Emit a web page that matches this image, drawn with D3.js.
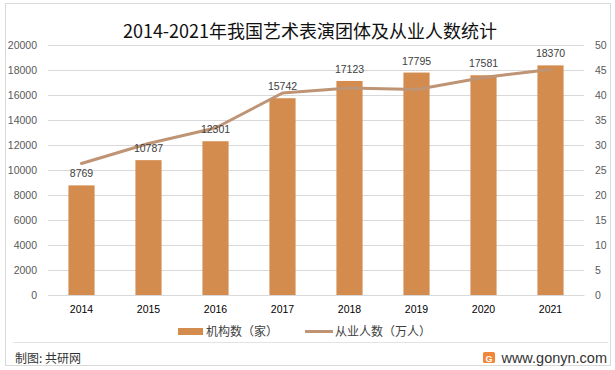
<!DOCTYPE html>
<html>
<head>
<meta charset="utf-8">
<script src="https://cdn.jsdelivr.net/npm/d3@7"></script>
<style>
  body { margin: 0; background: #fff; }
  text { font-family: "Liberation Sans", Arial, sans-serif; }
  .cjk { font-family: "Noto Sans CJK SC", sans-serif; }
</style>
</head>
<body>
<div id="chart"></div>
<script>
// chart data
var years = ["2014", "2015", "2016", "2017", "2018", "2019", "2020", "2021"];
var orgCount = [8769, 10787, 12301, 15742, 17123, 17795, 17581, 18370];
var staffCount = [26.3, 30.3, 33.4, 40.4, 41.4, 41.1, 43.5, 45.1];
var leftTicks = [0, 2000, 4000, 6000, 8000, 10000, 12000, 14000, 16000, 18000, 20000];
var rightTicks = [0, 5, 10, 15, 20, 25, 30, 35, 40, 45, 50];

var svgWidth = 615;
var svgHeight = 370;

var margin = { top: 45, right: 31, bottom: 75, left: 48 };
var width = svgWidth - margin.left - margin.right;
var height = svgHeight - margin.top - margin.bottom;

var barColor = "#D48C4E";
var lineColor = "#BE9474";

var svg = d3.select("#chart")
  .append("svg")
  .attr("width", svgWidth)
  .attr("height", svgHeight);

// outer frame + footer rule
svg.append("rect")
  .attr("x", 5.5).attr("y", 3.5)
  .attr("width", 605).attr("height", 362)
  .attr("fill", "none")
  .attr("stroke", "#d9d9d9");
svg.append("line")
  .attr("x1", 13).attr("x2", 608)
  .attr("y1", 342.5).attr("y2", 342.5)
  .attr("stroke", "#e3e3e3");

svg.append("text")
  .attr("class", "cjk")
  .attr("x", 310)
  .attr("y", 38)
  .attr("text-anchor", "middle")
  .attr("font-size", "18px")
  .attr("fill", "#111")
  .text("2014-2021年我国艺术表演团体及从业人数统计");

var chartGroup = svg.append("g")
  .attr("transform", `translate(${margin.left}, ${margin.top})`);

var x = d3.scaleBand()
  .domain(years)
  .range([0, width])
  .paddingInner(0.61)
  .paddingOuter(0.305);

var yLeft = d3.scaleLinear()
  .domain([0, 20000])
  .range([height, 0]);

var yRight = d3.scaleLinear()
  .domain([0, 50])
  .range([height, 0]);

// gridlines
chartGroup.append("g")
  .selectAll("line")
  .data(leftTicks)
  .enter()
  .append("line")
  .attr("x1", 0)
  .attr("x2", width)
  .attr("y1", d => Math.round(yLeft(d)) + 0.5)
  .attr("y2", d => Math.round(yLeft(d)) + 0.5)
  .attr("stroke", "#d9d9d9");

// left axis
var leftAxis = d3.axisLeft(yLeft).tickValues(leftTicks).tickFormat(d3.format("d")).tickSize(0).tickPadding(11);
chartGroup.append("g")
  .call(leftAxis)
  .call(g => g.select(".domain").remove())
  .selectAll("text")
  .attr("font-size", "10.5px")
  .attr("fill", "#595959")
  .attr("font-family", "Liberation Sans, Arial, sans-serif");

// right axis
var rightAxis = d3.axisRight(yRight).tickValues(rightTicks).tickSize(0).tickPadding(11);
chartGroup.append("g")
  .attr("transform", `translate(${width}, 0)`)
  .call(rightAxis)
  .call(g => g.select(".domain").remove())
  .selectAll("text")
  .attr("font-size", "10.5px")
  .attr("fill", "#595959")
  .attr("font-family", "Liberation Sans, Arial, sans-serif");

// bottom axis
var bottomAxis = d3.axisBottom(x).tickSize(0).tickPadding(11);
chartGroup.append("g")
  .attr("transform", `translate(0, ${height})`)
  .call(bottomAxis)
  .call(g => g.select(".domain").attr("stroke", "#d9d9d9"))
  .selectAll("text")
  .attr("font-size", "10.5px")
  .attr("fill", "#000")
  .attr("font-family", "Liberation Sans, Arial, sans-serif");

// bars
chartGroup.selectAll("rect.bar")
  .data(orgCount)
  .enter()
  .append("rect")
  .attr("class", "bar")
  .attr("x", (d, i) => x(years[i]))
  .attr("y", d => yLeft(d))
  .attr("width", x.bandwidth())
  .attr("height", d => height - yLeft(d))
  .attr("fill", barColor);

// line
var line = d3.line()
  .x((d, i) => x(years[i]) + x.bandwidth() / 2)
  .y(d => yRight(d));

chartGroup.append("path")
  .datum(staffCount)
  .attr("d", line)
  .attr("fill", "none")
  .attr("stroke", lineColor)
  .attr("stroke-width", 3)
  .attr("stroke-linejoin", "round")
  .attr("stroke-linecap", "round");

// bar value labels
chartGroup.selectAll("text.val")
  .data(orgCount)
  .enter()
  .append("text")
  .attr("class", "val")
  .attr("x", (d, i) => x(years[i]) + x.bandwidth() / 2)
  .attr("y", d => yLeft(d) - 8)
  .attr("text-anchor", "middle")
  .attr("font-size", "10.5px")
  .attr("fill", "#404040")
  .text(d => d);

// legend
var legend = svg.append("g");
legend.append("rect")
  .attr("x", 178).attr("y", 328)
  .attr("width", 25).attr("height", 7)
  .attr("fill", barColor);
legend.append("text")
  .attr("class", "cjk")
  .attr("x", 206).attr("y", 336)
  .attr("font-size", "12px")
  .attr("fill", "#404040")
  .text("机构数（家）");
legend.append("line")
  .attr("x1", 305).attr("x2", 333)
  .attr("y1", 331.5).attr("y2", 331.5)
  .attr("stroke", lineColor)
  .attr("stroke-width", 3);
legend.append("text")
  .attr("class", "cjk")
  .attr("x", 335).attr("y", 336)
  .attr("font-size", "12px")
  .attr("fill", "#404040")
  .text("从业人数（万人）");

// footer
svg.append("text")
  .attr("class", "cjk")
  .attr("x", 15).attr("y", 363)
  .attr("font-size", "12px")
  .attr("fill", "#333")
  .text("制图: 共研网");

svg.append("rect")
  .attr("x", 483).attr("y", 352)
  .attr("width", 12).attr("height", 11)
  .attr("rx", 1.5)
  .attr("fill", "#F0873A");
svg.append("text")
  .attr("x", 489).attr("y", 361.5)
  .attr("text-anchor", "middle")
  .attr("font-size", "9px")
  .attr("font-weight", "bold")
  .attr("fill", "#fff")
  .text("G");
svg.append("text")
  .attr("x", 607).attr("y", 363)
  .attr("text-anchor", "end")
  .attr("font-size", "14.5px")
  .attr("fill", "#333")
  .attr("font-family", "Open Sans, Liberation Sans, sans-serif")
  .text("www.gonyn.com");
</script>
</body>
</html>
